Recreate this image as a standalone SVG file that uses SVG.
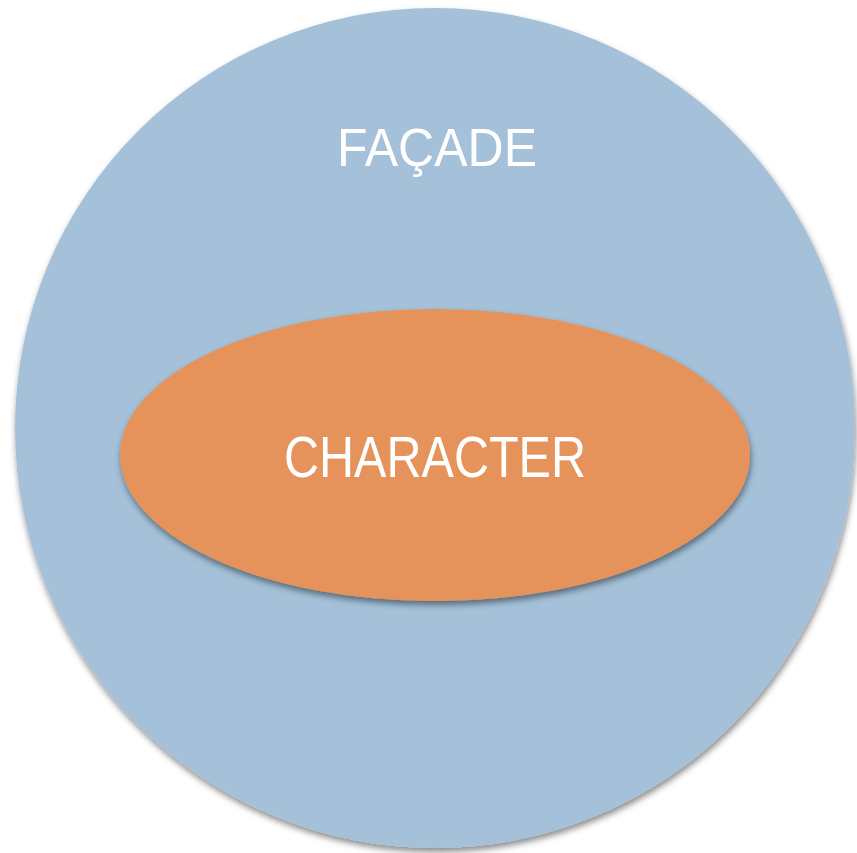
<svg xmlns="http://www.w3.org/2000/svg" width="857" height="853" viewBox="0 0 857 853">
<style>
.lbl{font-family:"Liberation Sans","DejaVu Sans",sans-serif;fill:#ffffff;text-anchor:middle}
</style>
<defs>
<filter id="sh" x="-10%" y="-10%" width="120%" height="125%">
<feDropShadow dx="1" dy="4" stdDeviation="3" flood-color="#000" flood-opacity="0.45"/>
</filter>
</defs>
<rect width="857" height="853" fill="#ffffff"/>
<g id="facade">
<circle cx="435" cy="428" r="420" fill="#A4C1D9" filter="url(#sh)"/>
<text class="lbl" x="437" y="166" font-size="53" textLength="200" lengthAdjust="spacingAndGlyphs">FAÇADE</text>
</g>
<g id="character">
<ellipse cx="435" cy="455" rx="315" ry="146" fill="#E5935A" filter="url(#sh)"/>
<text class="lbl" x="435" y="477" font-size="57" textLength="302" lengthAdjust="spacingAndGlyphs">CHARACTER</text>
</g>
<g id="connectors"></g>
</svg>
